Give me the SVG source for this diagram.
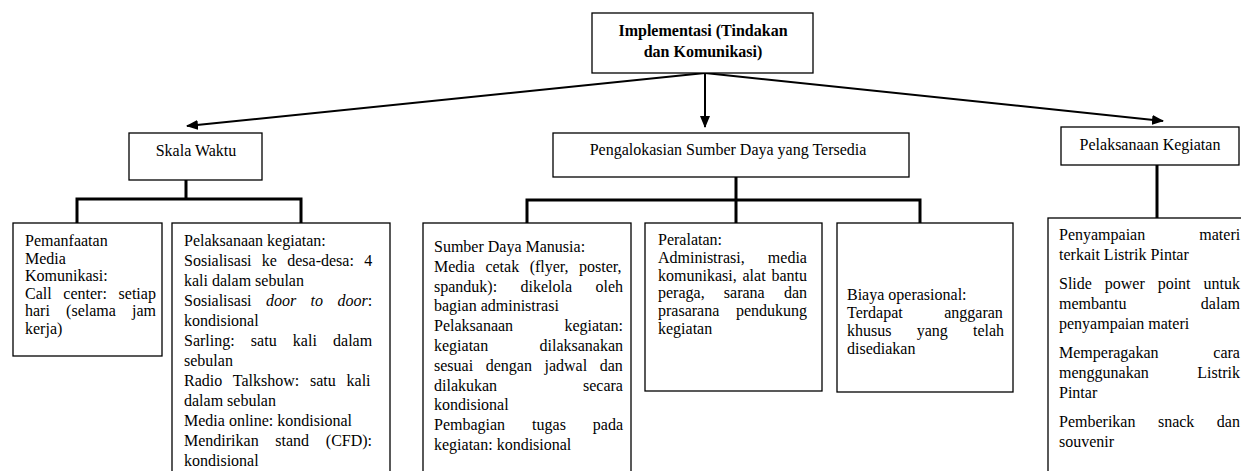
<svg xmlns="http://www.w3.org/2000/svg" width="1241" height="471" viewBox="0 0 1241 471">
<defs>
<style>
.box{fill:#fff;stroke:#000;stroke-width:1.3}
.t{font-family:"Liberation Serif","Times New Roman",serif;font-size:16px;fill:#000}
.b{font-weight:bold}
.c{text-anchor:middle}
.arr{stroke:#000;stroke-width:2;fill:none}
.con{stroke:#000;stroke-width:3;fill:none}
</style>
<marker id="ah" markerUnits="userSpaceOnUse" markerWidth="12" markerHeight="10" refX="11" refY="5" orient="auto">
<path d="M0,0 L12,5 L0,10 Z" fill="#000"/>
</marker>
</defs>
<rect width="1241" height="471" fill="#fff"/>
<g id="connectors">
<line class="arr" x1="705" y1="73" x2="705" y2="127" marker-end="url(#ah)"/>
<line class="arr" x1="705" y1="73" x2="187" y2="126" marker-end="url(#ah)"/>
<line class="arr" x1="705" y1="73" x2="1163" y2="121" marker-end="url(#ah)"/>
<path class="con" d="M186,180 V199 M77,223 V199 H301 V223"/>
<path class="con" d="M736,177 V200 M527,223 V200 H920 V223 M736,200 V223"/>
<path class="con" d="M1157,165 V218"/>
</g>
<g id="top">
<rect class="box" x="592" y="13" width="221" height="60"/>
<text class="t b c" x="703" y="36">Implementasi (Tindakan</text>
<text class="t b c" x="703" y="57">dan Komunikasi)</text>
</g>
<g id="skala">
<rect class="box" x="129" y="133" width="133" height="47"/>
<text class="t c" x="196" y="156">Skala Waktu</text>
</g>
<g id="pengalokasian">
<rect class="box" x="553" y="133" width="356" height="44"/>
<text class="t c" x="728" y="155">Pengalokasian Sumber Daya yang Tersedia</text>
</g>
<g id="pelaksanaan">
<rect class="box" x="1061" y="127" width="178" height="38"/>
<text class="t c" x="1150" y="150">Pelaksanaan Kegiatan</text>
</g>
<g id="media">
<rect class="box" x="13" y="223" width="149" height="133"/>
<text class="t" x="25" y="246">Pemanfaatan</text>
<text class="t" x="25" y="263.6">Media</text>
<text class="t" x="25" y="281.2">Komunikasi:</text>
<text class="t" x="25" y="298.8" style="word-spacing:7.7px">Call center: setiap</text>
<text class="t" x="25" y="316.4" style="word-spacing:12.2px">hari (selama jam</text>
<text class="t" x="25" y="334">kerja)</text>
</g>
<g id="kegiatan">
<rect class="box" x="172" y="223" width="218" height="260"/>
<text class="t" x="184" y="246">Pelaksanaan kegiatan:</text>
<text class="t" x="184" y="266" style="word-spacing:6.3px">Sosialisasi ke desa-desa: 4</text>
<text class="t" x="184" y="286">kali dalam sebulan</text>
<text class="t" x="184" y="306" style="word-spacing:10.4px">Sosialisasi <tspan font-style="italic">door to door</tspan>:</text>
<text class="t" x="184" y="326">kondisional</text>
<text class="t" x="184" y="346" style="word-spacing:12.2px">Sarling: satu kali dalam</text>
<text class="t" x="184" y="366">sebulan</text>
<text class="t" x="184" y="386" style="word-spacing:6.8px">Radio Talkshow: satu kali</text>
<text class="t" x="184" y="406">dalam sebulan</text>
<text class="t" x="184" y="426">Media online: kondisional</text>
<text class="t" x="184" y="446" style="word-spacing:12.7px">Mendirikan stand (CFD):</text>
<text class="t" x="184" y="466">kondisional</text>
</g>
<g id="sdm">
<rect class="box" x="423" y="223" width="208" height="260"/>
<text class="t" x="434" y="252">Sumber Daya Manusia:</text>
<text class="t" x="434" y="271.8" style="word-spacing:6.5px">Media cetak (flyer, poster,</text>
<text class="t" x="434" y="291.6" style="word-spacing:19.4px">spanduk): dikelola oleh</text>
<text class="t" x="434" y="311.4">bagian administrasi</text>
<text class="t" x="434" y="331.2" style="word-spacing:47.3px">Pelaksanaan kegiatan:</text>
<text class="t" x="434" y="351" style="word-spacing:47.3px">kegiatan dilaksanakan</text>
<text class="t" x="434" y="370.8" style="word-spacing:8.6px">sesuai dengan jadwal dan</text>
<text class="t" x="434" y="390.6" style="word-spacing:81.9px">dilakukan secara</text>
<text class="t" x="434" y="410.4">kondisional</text>
<text class="t" x="434" y="430.2" style="word-spacing:23px">Pembagian tugas pada</text>
<text class="t" x="434" y="450">kegiatan: kondisional</text>
</g>
<g id="peralatan">
<rect class="box" x="645" y="223" width="177" height="168"/>
<text class="t" x="658" y="245">Peralatan:</text>
<text class="t" x="658" y="262.8" style="word-spacing:19.2px">Administrasi, media</text>
<text class="t" x="658" y="280.6" style="word-spacing:1.85px">komunikasi, alat bantu</text>
<text class="t" x="658" y="298.4" style="word-spacing:15.2px">peraga, sarana dan</text>
<text class="t" x="658" y="316.2" style="word-spacing:12.6px">prasarana pendukung</text>
<text class="t" x="658" y="334">kegiatan</text>
</g>
<g id="biaya">
<rect class="box" x="837" y="223" width="176" height="169"/>
<text class="t" x="847" y="300">Biaya operasional:</text>
<text class="t" x="847" y="318" style="word-spacing:37.5px">Terdapat anggaran</text>
<text class="t" x="847" y="336" style="word-spacing:21.2px">khusus yang telah</text>
<text class="t" x="847" y="354">disediakan</text>
</g>
<g id="rincian">
<rect class="box" x="1048" y="218" width="210" height="270"/>
<text class="t" x="1059" y="240" style="word-spacing:50.1px">Penyampaian materi</text>
<text class="t" x="1059" y="260">terkait Listrik Pintar</text>
<text class="t" x="1059" y="289" style="word-spacing:8.9px">Slide power point untuk</text>
<text class="t" x="1059" y="309" style="word-spacing:70.3px">membantu dalam</text>
<text class="t" x="1059" y="329">penyampaian materi</text>
<text class="t" x="1059" y="358" style="word-spacing:50.8px">Memperagakan cara</text>
<text class="t" x="1059" y="378" style="word-spacing:44.6px">menggunakan Listrik</text>
<text class="t" x="1059" y="398">Pintar</text>
<text class="t" x="1059" y="427" style="word-spacing:18.5px">Pemberikan snack dan</text>
<text class="t" x="1059" y="447">souvenir</text>
</g>
</svg>
